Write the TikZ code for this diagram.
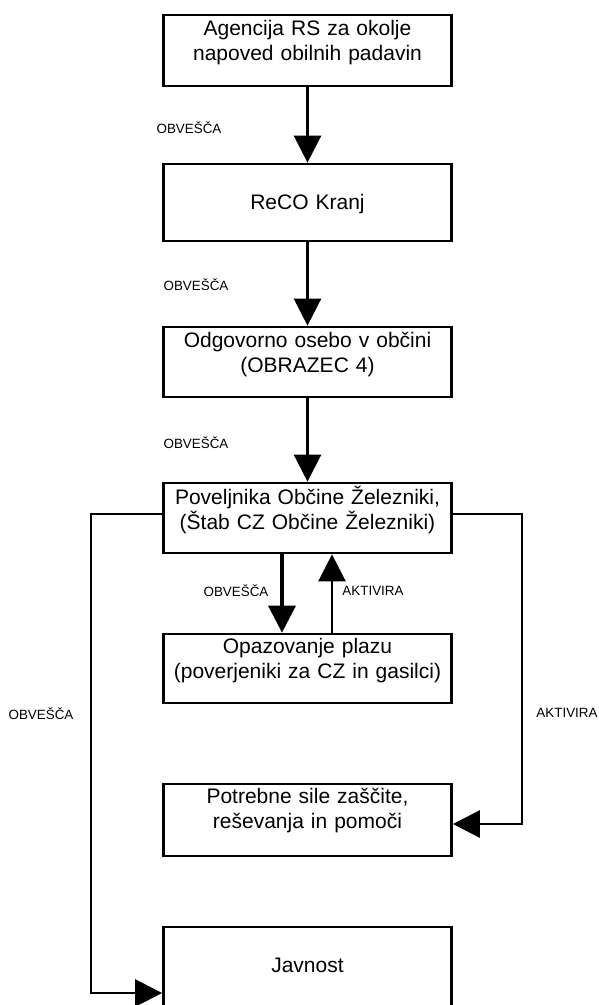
\documentclass[tikz,border=0pt]{standalone}
\usepackage{fontspec}
\setmainfont{Liberation Sans}
\usetikzlibrary{arrows.meta}
\begin{document}
\begin{tikzpicture}[x=1pt,y=-1pt,
 box/.style={draw, line width=2.7pt, minimum width=288pt, inner sep=0pt},
 txt/.style={font=\fontsize{21}{25.5}\selectfont, text width=288pt, align=center, inner sep=0pt},
 lbl/.style={font=\fontsize{13.4}{16}\selectfont, inner sep=0pt},
 conn/.style={line width=2.5pt, -{Triangle[length=27pt,width=27pt]}},
]
\useasboundingbox (0,0) rectangle (599,1005);
\clip (0,0) rectangle (599,1005);

% boxes
\node[box, minimum height=71pt] (b1) at (307.5,50.5) {};
\node[box, minimum height=77pt] (b2) at (307.5,202.5) {};
\node[box, minimum height=70pt] (b3) at (307.5,362) {};
\node[box, minimum height=70pt] (b4) at (307.5,518) {};
\node[box, minimum height=69pt] (b5) at (307.5,668.5) {};
\node[box, minimum height=72pt] (b6) at (307.5,820) {};
\node[box, minimum height=83pt] (b7) at (307.5,968.5) {};

% box texts
\node[txt, anchor=base] (t1) at (307.5,35) {Agencija RS za okolje\\napoved obilnih padavin};
\node[txt, anchor=base] (t2) at (307.5,209) {ReCO Kranj};
\node[txt, anchor=base] (t3) at (307.5,347) {Odgovorno osebo v občini\\(OBRAZEC 4)};
\node[txt, anchor=base] (t4) at (307.5,504) {Poveljnika Občine Železniki,\\(Štab CZ Občine Železniki)};
\node[txt, anchor=base] (t5) at (307.5,653) {Opazovanje plazu\\(poverjeniki za CZ in gasilci)};
\node[txt, anchor=base] (t6) at (307.5,803) {Potrebne sile zaščite,\\reševanja in pomoči};
\node[txt, anchor=base] (t7) at (307.5,972) {Javnost};

% labels
\node[lbl] (l1) at (189,128) {OBVEŠČA};
\node[lbl] (l2) at (196,285) {OBVEŠČA};
\node[lbl] (l3) at (196,443) {OBVEŠČA};
\node[lbl] (l4) at (236,591) {OBVEŠČA};
\node[lbl] (l5) at (373,591) {AKTIVIRA};
\node[lbl] (l6) at (41,714) {OBVEŠČA};
\node[lbl] (l7) at (567,713) {AKTIVIRA};

% connectors
\draw[conn] (b1.south) -- (b2.north);
\draw[conn] (b2.south) -- (b3.north);
\draw[conn] (b3.south) -- (b4.north);
\draw[conn, line width=3.5pt] ([xshift=-25.5pt]b4.south) -- ([xshift=-25.5pt]b5.north);
\draw[conn] ([xshift=24.5pt]b5.north) -- ([xshift=24.5pt]b4.south);

\coordinate (lc) at (91,993);
\coordinate (rc) at (522,824);
\draw[conn] ([yshift=4pt]b4.west) -| (lc) -- (b7.west |- lc);
\draw[conn] ([yshift=4pt]b4.east) -| (rc) -- (b6.east |- rc);
\end{tikzpicture}
\end{document}
